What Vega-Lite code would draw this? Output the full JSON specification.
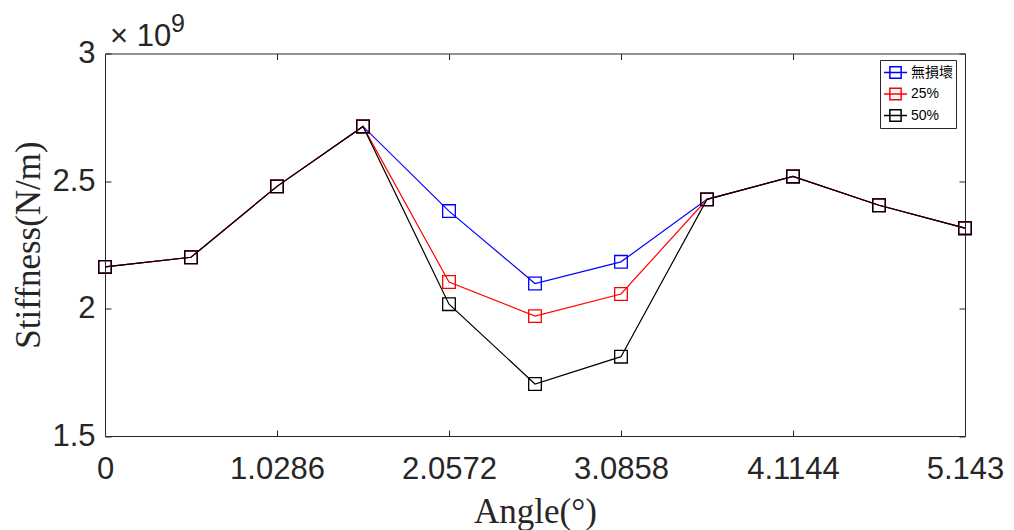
{
  "$schema": "https://vega.github.io/schema/vega-lite/v6.json",
  "width": 860,
  "height": 382.5,
  "autosize": {"type": "none"},
  "padding": {"left": 105, "top": 53.5, "right": 49, "bottom": 94},
  "background": "white",
  "config": {
    "view": {"stroke": "#262626", "strokeWidth": 1},
    "axis": {
      "domain": false,
      "grid": false,
      "labelFont": "Liberation Sans",
      "labelFontSize": 31,
      "labelColor": "#262626",
      "tickColor": "#262626",
      "tickSize": -6,
      "tickWidth": 1,
      "titleFont": "Liberation Serif",
      "titleFontSize": 35,
      "titleFontWeight": "normal",
      "titleColor": "#262626"
    }
  },
  "data": {
    "values": [
      {"angle": 0, "stiffness": 2163000000, "series": "無損壞"},
      {"angle": 0.5143, "stiffness": 2201000000, "series": "無損壞"},
      {"angle": 1.0286, "stiffness": 2479000000, "series": "無損壞"},
      {"angle": 1.5429, "stiffness": 2714000000, "series": "無損壞"},
      {"angle": 2.0572, "stiffness": 2382000000, "series": "無損壞"},
      {"angle": 2.5715, "stiffness": 2098000000, "series": "無損壞"},
      {"angle": 3.0858, "stiffness": 2183000000, "series": "無損壞"},
      {"angle": 3.6001, "stiffness": 2428000000, "series": "無損壞"},
      {"angle": 4.1144, "stiffness": 2518000000, "series": "無損壞"},
      {"angle": 4.6287, "stiffness": 2405000000, "series": "無損壞"},
      {"angle": 5.143, "stiffness": 2315000000, "series": "無損壞"},
      {"angle": 0, "stiffness": 2163000000, "series": "25%"},
      {"angle": 0.5143, "stiffness": 2201000000, "series": "25%"},
      {"angle": 1.0286, "stiffness": 2479000000, "series": "25%"},
      {"angle": 1.5429, "stiffness": 2714000000, "series": "25%"},
      {"angle": 2.0572, "stiffness": 2104000000, "series": "25%"},
      {"angle": 2.5715, "stiffness": 1970000000, "series": "25%"},
      {"angle": 3.0858, "stiffness": 2057000000, "series": "25%"},
      {"angle": 3.6001, "stiffness": 2428000000, "series": "25%"},
      {"angle": 4.1144, "stiffness": 2518000000, "series": "25%"},
      {"angle": 4.6287, "stiffness": 2405000000, "series": "25%"},
      {"angle": 5.143, "stiffness": 2315000000, "series": "25%"},
      {"angle": 0, "stiffness": 2163000000, "series": "50%"},
      {"angle": 0.5143, "stiffness": 2201000000, "series": "50%"},
      {"angle": 1.0286, "stiffness": 2479000000, "series": "50%"},
      {"angle": 1.5429, "stiffness": 2714000000, "series": "50%"},
      {"angle": 2.0572, "stiffness": 2017000000, "series": "50%"},
      {"angle": 2.5715, "stiffness": 1704000000, "series": "50%"},
      {"angle": 3.0858, "stiffness": 1811000000, "series": "50%"},
      {"angle": 3.6001, "stiffness": 2428000000, "series": "50%"},
      {"angle": 4.1144, "stiffness": 2518000000, "series": "50%"},
      {"angle": 4.6287, "stiffness": 2405000000, "series": "50%"},
      {"angle": 5.143, "stiffness": 2315000000, "series": "50%"}
    ]
  },
  "resolve": {"axis": {"x": "independent", "y": "independent"}},
  "layer": [
    {
      "mark": {"type": "line", "strokeWidth": 1.2},
      "encoding": {
        "x": {
          "field": "angle", "type": "quantitative",
          "scale": {"domain": [0, 5.143], "nice": false, "zero": false},
          "axis": {
            "orient": "bottom",
            "values": [0, 1.0286, 2.0572, 3.0858, 4.1144, 5.143],
            "labelExpr": "'' + datum.value",
            "labelPadding": 24,
            "labelFlush": false,
            "title": "Angle(°)",
            "titleX": 430,
            "titleY": 86,
            "titleBaseline": "alphabetic",
            "titleAlign": "center"
          }
        },
        "y": {
          "field": "stiffness", "type": "quantitative",
          "scale": {"domain": [1500000000, 3000000000], "nice": false, "zero": false},
          "axis": {
            "orient": "left",
            "values": [1500000000, 2000000000, 2500000000, 3000000000],
            "labelExpr": "'' + datum.value / 1000000000",
            "labelPadding": 16,
            "labelFlush": false,
            "title": "Stiffness(N/m)",
            "titleX": -66,
            "titleY": 191,
            "titleAngle": -90,
            "titleBaseline": "alphabetic",
            "titleAlign": "center"
          }
        },
        "color": {
          "field": "series", "type": "nominal",
          "scale": {"domain": ["無損壞", "25%", "50%"], "range": ["#0000ff", "#ff0000", "#000000"]},
          "legend": {
            "title": null,
            "orient": "none",
            "legendX": 775,
            "legendY": 6.5,
            "padding": 3,
            "strokeColor": "#262626",
            "fillColor": "white",
            "labelFont": "Liberation Sans, Noto Sans CJK TC",
            "labelFontSize": 14,
            "labelColor": "#000000",
            "labelOffset": 3,
            "symbolType": "M-1,0H1M-0.49,-0.49H0.49V0.49H-0.49Z",
            "symbolSize": 529,
            "symbolStrokeWidth": 1.5,
            "symbolFillColor": "transparent",
            "clipHeight": 19,
            "rowPadding": 2.5
          }
        }
      }
    },
    {
      "mark": {"type": "point", "shape": "square", "filled": false, "size": 160, "strokeWidth": 1.3, "opacity": 1},
      "encoding": {
        "x": {
          "field": "angle", "type": "quantitative",
          "axis": {"orient": "top", "values": [0, 1.0286, 2.0572, 3.0858, 4.1144, 5.143], "labels": false, "title": null}
        },
        "y": {
          "field": "stiffness", "type": "quantitative",
          "axis": {"orient": "right", "values": [1500000000, 2000000000, 2500000000, 3000000000], "labels": false, "title": null}
        },
        "color": {"field": "series", "type": "nominal"}
      }
    },
    {
      "data": {"values": [{"label": "× 10", "exp": "9"}]},
      "mark": {"type": "text", "font": "Liberation Sans", "fontSize": 31, "color": "#262626", "align": "left", "baseline": "alphabetic", "dx": 5, "dy": -7.5},
      "encoding": {
        "x": {"datum": 0, "type": "quantitative", "axis": null},
        "y": {"datum": 3000000000, "type": "quantitative", "axis": null},
        "text": {"field": "label"}
      }
    },
    {
      "data": {"values": [{"label": "× 10", "exp": "9"}]},
      "mark": {"type": "text", "font": "Liberation Sans", "fontSize": 25, "color": "#262626", "align": "left", "baseline": "alphabetic", "dx": 66, "dy": -21.5},
      "encoding": {
        "x": {"datum": 0, "type": "quantitative", "axis": null},
        "y": {"datum": 3000000000, "type": "quantitative", "axis": null},
        "text": {"field": "exp"}
      }
    }
  ]
}
